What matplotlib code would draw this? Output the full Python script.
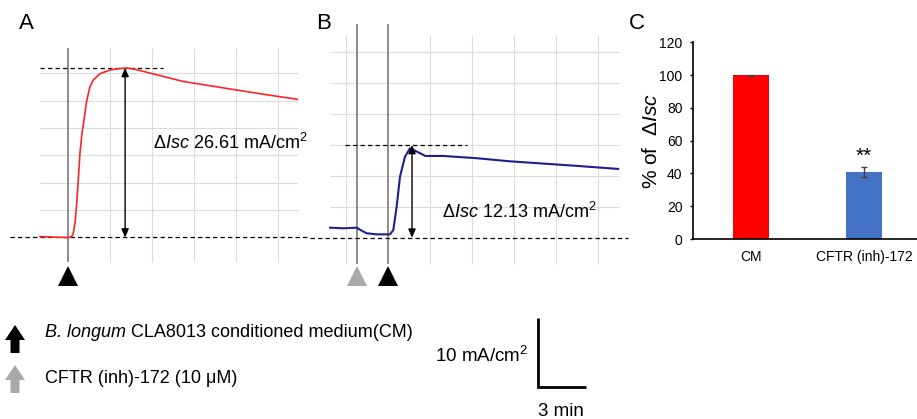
import matplotlib
matplotlib.use('Agg')
import matplotlib.pyplot as plt
from matplotlib.patches import FancyArrow

plt.rcParams['font.family'] = ['Liberation Sans', 'DejaVu Sans']
plt.rcParams['mathtext.fontset'] = 'custom'
plt.rcParams['mathtext.rm'] = 'Liberation Sans'
plt.rcParams['mathtext.it'] = 'Liberation Sans:italic'
plt.rcParams['mathtext.bf'] = 'Liberation Sans:bold'

# ---------------- data ----------------
# Panel A: Isc trace (time in min relative to CM addition, current in mA/cm2)
a_time = [-3.33, -1.5, 0.0, 0.45, 0.65, 0.85, 1.04, 1.25, 1.43, 1.65, 1.9, 2.2,
          2.6, 3.0, 3.8, 5.0, 6.0, 7.0, 8.0, 9.8, 13.7, 18.9, 23.7, 27.3]
a_isc = [0.15, 0.05, 0.0, 0.15, 0.8, 2.5, 5.4, 9.6, 13.3, 16.2, 18.4, 21.3,
         23.6, 24.7, 25.7, 26.3, 26.5, 26.61, 26.4, 25.8, 24.5, 23.4, 22.4, 21.7]
a_delta = 26.61
a_cm_time = 0.0

# Panel B: Isc trace with CFTR inhibitor pre-treatment
b_time = [-6.9, -5.3, -3.73, -3.13, -2.54, -1.35, 0.24, 0.63, 1.03, 1.43, 2.02,
          2.62, 3.45, 4.44, 6.6, 10.6, 14.5, 18.5, 22.5, 27.4]
b_isc = [1.31, 1.23, 1.31, 0.92, 0.58, 0.44, 0.44, 1.0, 4.06, 8.0, 10.6,
         11.7, 11.26, 10.7, 10.7, 10.4, 10.0, 9.7, 9.4, 9.0]
b_delta = 12.13
b_inh_time = -3.7
b_cm_time = 0.0

# Panel C: bar chart
bar_labels = ['CM', 'CFTR (inh)-172']
bar_values = [100, 41]
bar_errors = [0.3, 3]
bar_colors = ['#FF0000', '#4472C4']
y_ticks = [0, 20, 40, 60, 80, 100, 120]

# ---------------- layout ----------------
W, H = 917, 419
fig = plt.figure(figsize=(W / 100, H / 100), dpi=100)

GRID = '#DCDCDC'
DARK = '#6E6E6E'
GRAYTRI = '#A9A9A9'
DASH = (0, (3.5, 2.5))


def px_axes(x0, y0, x1, y1):
    return fig.add_axes([x0 / W, 1 - y1 / H, (x1 - x0) / W, (y1 - y0) / H])


def trace_axes(x0, x1, y0, y1, t0px, ppm, base_px, ppu):
    ax = px_axes(x0, y0, x1, y1)
    ax.set_xlim((x0 - t0px) / ppm, (x1 - t0px) / ppm)
    ax.set_ylim((base_px - y1) / ppu, (base_px - y0) / ppu)
    ax.axis('off')
    return ax


arrow_props = dict(arrowstyle='<|-|>,head_length=0.5,head_width=0.22',
                   color='k', lw=1.0, shrinkA=0, shrinkB=0)
delta_fmt = r'$\mathit{\Delta Isc}$ %.2f mA/cm$^2$'

# ---- Panel A ----
axA = trace_axes(0, 310, 0, 300, t0px=68, ppm=8.4, base_px=237.5, ppu=6.37)
for k in range(1, 7):
    axA.hlines(4.3 * k, -3.33, 27.4, color=GRID, lw=0.8, zorder=1)
for t in [5, 10, 15, 20, 25]:
    axA.vlines(t, -3.8, 29.75, color=GRID, lw=0.8, zorder=1)
axA.vlines(a_cm_time, -3.8, 29.75, color=DARK, lw=1.1, zorder=2)
axA.plot(a_time, a_isc, color='#FF2424', lw=1.2, zorder=4)
axA.hlines(a_delta, -3.33, 11.3, color='k', lw=0.9, linestyles=DASH, zorder=3)
axA.hlines(0, -6.9, 28.81, color='k', lw=0.9, linestyles=DASH, zorder=3, clip_on=False)
axA.annotate('', xy=(6.8, a_delta), xytext=(6.8, 0), arrowprops=arrow_props, zorder=5)
axA.text(10.1, 14.8, delta_fmt % a_delta, fontsize=13, ha='left', va='center')
axA.plot([a_cm_time], [-5.97], marker='^', ms=14.5, color='k', mew=0, clip_on=False)

# ---- Panel B ----
axB = trace_axes(310, 630, 0, 300, t0px=388, ppm=8.4, base_px=237.7, ppu=7.64)
for k in range(1, 7):
    axB.hlines(4.043 * k, -6.9, 27.5, color=GRID, lw=0.8, zorder=1)
for t in [-5, 5, 10, 15, 20, 25]:
    axB.vlines(t, -3.44, 26.5, color=GRID, lw=0.8, zorder=1)
axB.vlines([b_inh_time, b_cm_time], -3.44, 27.97, color=DARK, lw=1.1, zorder=2)
axB.plot(b_time, b_isc, color='#1E1E8E', lw=1.5, zorder=4)
axB.hlines(b_delta, -5.1, 9.4, color='k', lw=0.9, linestyles=DASH, zorder=3)
axB.hlines(0, -9.286, 28.57, color='k', lw=0.9, linestyles=DASH, zorder=3, clip_on=False)
axB.annotate('', xy=(2.86, b_delta), xytext=(2.86, 0), arrowprops=arrow_props, zorder=5)
axB.text(6.4, 3.36, delta_fmt % b_delta, fontsize=13, ha='left', va='center')
axB.plot([b_inh_time], [-4.95], marker='^', ms=14.5, color=GRAYTRI, mew=0, clip_on=False)
axB.plot([b_cm_time], [-4.95], marker='^', ms=14.5, color='k', mew=0, clip_on=False)

# ---- Panel C ----
axC = px_axes(692.7, 42.3, 917, 239)
xpos = list(range(len(bar_values)))
axC.bar(xpos, bar_values, width=0.314, color=bar_colors,
        yerr=bar_errors,
        error_kw=dict(ecolor='#404040', elinewidth=1.0, capsize=2.5, capthick=1.0))
axC.set_xlim(-0.516, 1.469)
axC.set_ylim(0, 120)
axC.set_yticks(y_ticks)
axC.set_xticks(xpos)
axC.set_xticklabels(bar_labels)
axC.tick_params(axis='y', labelsize=10, length=2.5, width=1.0, pad=4.8)
axC.tick_params(axis='x', labelsize=10, length=0, pad=8)
for s in ['top', 'right']:
    axC.spines[s].set_visible(False)
for s in ['left', 'bottom']:
    axC.spines[s].set_linewidth(1.2)
axC.set_ylabel(r'% of  $\mathit{\Delta Isc}$', fontsize=15)
axC.yaxis.set_label_coords(-0.14, 0.5)
axC.text(1, 47, '**', ha='center', va='baseline', fontsize=15)
axC.patch.set_alpha(0)

# ---- overlay: panel letters, legend, scale bar ----
axO = fig.add_axes([0, 0, 1, 1])
axO.set_xlim(0, W)
axO.set_ylim(H, 0)
axO.axis('off')
for lab, x in [('A', 26), ('B', 324), ('C', 636.7)]:
    axO.text(x, 23.3, lab, fontsize=16, ha='center', va='center')

axO.add_patch(FancyArrow(15, 353, 0, -28, width=9, head_width=20, head_length=15,
                         length_includes_head=True, color='k', lw=0))
axO.add_patch(FancyArrow(15, 393, 0, -28, width=9, head_width=20, head_length=15,
                         length_includes_head=True, color=GRAYTRI, lw=0))
t_it = axO.text(45, 332, 'B. longum', fontsize=13, fontstyle='italic',
                ha='left', va='center')
axO.annotate(' CLA8013 conditioned medium(CM)', xy=(1, 0.5), xycoords=t_it,
             fontsize=13, ha='left', va='center')
axO.text(45, 378.3, 'CFTR (inh)-172 (10 μM)', fontsize=13, ha='left', va='center')

axO.plot([538.3, 538.3, 585.7], [317.7, 386.7, 386.7], color='k', lw=2.0,
         solid_joinstyle='miter', solid_capstyle='butt')
axO.text(528.3, 355.7, r'10 mA/cm$^2$', fontsize=13.5, ha='right', va='center')
axO.text(561, 411, '3 min', fontsize=13.5, ha='center', va='center')

fig.savefig('out.png', dpi=100)
